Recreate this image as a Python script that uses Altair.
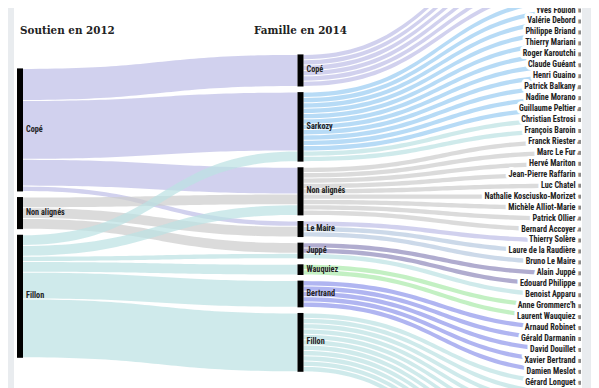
import altair as alt
import pandas as pd
import numpy as np

# ---------------- data ----------------
soutiens_2012 = ["Copé", "Non alignés", "Fillon"]
familles_2014 = ["Copé", "Sarkozy", "Non alignés", "Le Maire", "Juppé",
                 "Wauquiez", "Bertrand", "Fillon"]

flux_source = ["Copé", "Copé", "Copé", "Copé",
               "Non alignés", "Non alignés", "Non alignés",
               "Fillon", "Fillon", "Fillon", "Fillon", "Fillon", "Fillon"]
flux_cible = ["Copé", "Sarkozy", "Non alignés", "Le Maire",
              "Non alignés", "Le Maire", "Juppé",
              "Sarkozy", "Non alignés", "Juppé", "Wauquiez", "Bertrand", "Fillon"]
flux_valeur = [6, 11, 5, 1, 2, 2, 2, 2, 2, 1, 2, 5, 11]

personnalites = [
    "Jean-François Copé", "Michèle Tabarot", "Jérôme Lavrilleux", "Christian Jacob",
    "Geoffroy Didier", "Marc-Philippe Daubresse",
    "Brice Hortefeux", "Yves Foulon", "Valérie Debord", "Philippe Briand",
    "Thierry Mariani", "Roger Karoutchi", "Claude Guéant", "Henri Guaino",
    "Patrick Balkany", "Nadine Morano", "Guillaume Peltier", "Christian Estrosi",
    "François Baroin",
    "Franck Riester", "Marc Le Fur", "Hervé Mariton", "Jean-Pierre Raffarin",
    "Luc Chatel", "Nathalie Kosciusko-Morizet", "Michèle Alliot-Marie",
    "Patrick Ollier", "Bernard Accoyer",
    "Thierry Solère", "Laure de la Raudière", "Bruno Le Maire",
    "Alain Juppé", "Edouard Philippe", "Benoist Apparu",
    "Anne Grommerc'h", "Laurent Wauquiez",
    "Arnaud Robinet", "Gérald Darmanin", "David Douillet", "Xavier Bertrand",
    "Damien Meslot",
    "Gérard Longuet", "Valérie Pécresse", "Éric Ciotti", "Jérôme Chartier",
    "Pierre Lellouche", "Bernard Debré", "Henri de Raincourt", "Gilles Carrez",
    "Jean Leonetti", "Dominique Bussereau", "François Fillon",
]
famille_perso = (["Copé"] * 6 + ["Sarkozy"] * 13 + ["Non alignés"] * 9 +
                 ["Le Maire"] * 3 + ["Juppé"] * 3 + ["Wauquiez"] * 2 +
                 ["Bertrand"] * 5 + ["Fillon"] * 11)
couleur_perso = (["cope"] * 6 + ["sarkozy"] * 11 + ["fillon"] * 2 +
                 ["non"] * 9 +
                 ["cope", "lemaire", "lemaire"] +
                 ["juppe", "juppe", "fillon"] +
                 ["wauquiez"] * 2 + ["bertrand"] * 5 + ["fillon"] * 11)

palette = {"cope": "#bfbfe7", "non": "#cdcdcd", "fillon": "#bde2e3",
           "sarkozy": "#9bcdf2", "lemaire": "#b8cbe0", "juppe": "#918cbc",
           "wauquiez": "#aceaac", "bertrand": "#9298ec"}
couleur_soutien = {"Copé": "cope", "Non alignés": "non", "Fillon": "fillon"}

titres = ["Soutien en 2012", "Famille en 2014"]

# ---------------- layout (sankey, units = personalities) ----------------
PX_X = 280.5          # px between columns
PX_Y = 5.35           # px per personality
PAD = 5.6 / PX_Y      # node padding in units
NODE_W = 6 / PX_X
Y0_PX = -68.8         # page y of the top of the tallest column

def page_y(px):
    return (px - Y0_PX) / PX_Y

def page_x(px):
    return (px - 17) / PX_X

v1 = [sum(v for s, v in zip(flux_source, flux_valeur) if s == n) for n in soutiens_2012]
v2 = [famille_perso.count(f) for f in familles_2014]
v3 = [1] * len(personnalites)
center = (sum(v3) + (len(v3) - 1) * PAD) / 2

def stack(values):
    total = sum(values) + (len(values) - 1) * PAD
    y = center - total / 2
    out = []
    for v in values:
        out.append((y, y + v))
        y += v + PAD
    return out

n1 = stack(v1)
n2 = stack(v2)
n3 = stack(v3)

nodes = []
for name, (a, b) in zip(soutiens_2012, n1):
    nodes.append(dict(col=0, name=name, y0=a, y1=b))
for name, (a, b) in zip(familles_2014, n2):
    nodes.append(dict(col=1, name=name, y0=a, y1=b))
nodes_df = pd.DataFrame(nodes)
nodes_df["x0"] = nodes_df["col"]
nodes_df["x1"] = nodes_df["col"] + NODE_W
nodes_df["xl"] = nodes_df["x1"] + 3 / PX_X
nodes_df["ym"] = (nodes_df["y0"] + nodes_df["y1"]) / 2

pers_df = pd.DataFrame(dict(name=personnalites,
                            y0=[a for a, b in n3], y1=[b for a, b in n3]))
pers_df["ym"] = (pers_df["y0"] + pers_df["y1"]) / 2
pers_df["mk0"] = pers_df["ym"] - 2 / PX_Y
pers_df["mk1"] = pers_df["ym"] + 2 / PX_Y
pers_df["x0"] = 2.0 - 1.0 / PX_X
pers_df["x1"] = 2.0 + 3.0 / PX_X
pers_df["xl"] = 2.0 - 2.5 / PX_X

# links
links = []
src_off = {i: n1[i][0] for i in range(len(soutiens_2012))}
tgt_off = {j: n2[j][0] for j in range(len(familles_2014))}
order_src = sorted(range(len(flux_source)),
                   key=lambda k: (soutiens_2012.index(flux_source[k]),
                                  familles_2014.index(flux_cible[k])))
ys = {}
for k in order_src:
    i = soutiens_2012.index(flux_source[k])
    ys[k] = src_off[i]
    src_off[i] += flux_valeur[k]
order_tgt = sorted(range(len(flux_source)),
                   key=lambda k: (familles_2014.index(flux_cible[k]),
                                  soutiens_2012.index(flux_source[k])))
yt = {}
for k in order_tgt:
    j = familles_2014.index(flux_cible[k])
    yt[k] = tgt_off[j]
    tgt_off[j] += flux_valeur[k]
for k in range(len(flux_source)):
    links.append(dict(id=f"a{k}", x0=NODE_W, x1=1.0, ys=ys[k], yt=yt[k],
                      w=flux_valeur[k], c=palette[couleur_soutien[flux_source[k]]]))
fam_off = {j: n2[j][0] for j in range(len(familles_2014))}
for p, name in enumerate(personnalites):
    j = familles_2014.index(famille_perso[p])
    links.append(dict(id=f"b{p}", x0=1.0 + NODE_W, x1=2.0, ys=fam_off[j],
                      yt=n3[p][0], w=1, c=palette[couleur_perso[p]]))
    fam_off[j] += 1

GAP = 0.5 / PX_Y
rows = []
t = np.linspace(0, 1, 48)
for L in links:
    xm = (L["x0"] + L["x1"]) / 2
    xs = (1 - t) ** 3 * L["x0"] + 3 * (1 - t) ** 2 * t * xm + 3 * (1 - t) * t ** 2 * xm + t ** 3 * L["x1"]
    yy = ((1 - t) ** 3 + 3 * (1 - t) ** 2 * t) * L["ys"] + (3 * (1 - t) * t ** 2 + t ** 3) * L["yt"]
    for xv, yv in zip(xs, yy):
        rows.append(dict(id=L["id"], x=xv, top=yv + GAP, bot=yv + L["w"] - GAP, c=L["c"]))
links_df = pd.DataFrame(rows)

# ---------------- chart ----------------
W, H = 568, 380
Y_LO, Y_HI = page_y(8), page_y(8 + H)
xscale = alt.Scale(domain=[page_x(14), page_x(14 + W)], nice=False, zero=False)
yscale = alt.Scale(domain=[Y_LO, Y_HI], nice=False, zero=False, reverse=True)
X = lambda f: alt.X(f, type="quantitative", scale=xscale, axis=None)
Y = lambda f: alt.Y(f, type="quantitative", scale=yscale, axis=None)

LABEL_FONT = ("Roboto Condensed, Open Sans Condensed, "
              "DejaVu Sans Condensed, sans-serif")
LS = 8.2

link_layer = alt.Chart(links_df).mark_area(opacity=0.72, clip=True).encode(
    x=X("x"), y=Y("top"), y2="bot", detail="id:N",
    color=alt.Color("c:N", scale=None))

node_layer = alt.Chart(nodes_df).mark_rect(color="#000000", clip=True).encode(
    x=X("x0"), x2="x1", y=Y("y0"), y2="y1")

node_text = alt.Chart(nodes_df).mark_text(
    align="left", baseline="middle", font=LABEL_FONT, fontSize=LS,
    fontWeight="bold", color="#222222", clip=True).encode(
    x=X("xl"), y=Y("ym"), text="name:N")

visible = f"datum.ym >= {Y_LO} && datum.ym <= {Y_HI}"
pers_vis = alt.Chart(pers_df).transform_filter(visible)

pers_marker = alt.Chart(pers_df).mark_rect(color="#8a8a8a", clip=True).encode(
    x=X("x0"), x2="x1", y=Y("mk0"), y2="mk1")

pers_halo = pers_vis.mark_text(
    align="right", baseline="middle", font=LABEL_FONT, fontSize=LS,
    fontWeight="bold", color="white", stroke="white", strokeWidth=6,
    strokeJoin="round", clip=True).encode(
    x=X("xl"), y=Y("ym"), text="name:N")

pers_text = pers_vis.mark_text(
    align="right", baseline="middle", font=LABEL_FONT, fontSize=LS,
    fontWeight="bold", color="#222222", clip=True).encode(
    x=X("xl"), y=Y("ym"), text="name:N")

titre_df = pd.DataFrame(dict(t=titres, x=[page_x(20), 1.0 + NODE_W / 2],
                             y=[page_y(34), page_y(34)]))
TITLE_FONT = "DejaVu Serif Condensed, DejaVu Serif, serif"
titre1 = alt.Chart(titre_df.iloc[[0]]).mark_text(
    align="left", baseline="alphabetic", font=TITLE_FONT, fontSize=11.5,
    fontWeight="bold", color="#222222").encode(x=X("x"), y=Y("y"), text="t:N")
titre2 = alt.Chart(titre_df.iloc[[1]]).mark_text(
    align="center", baseline="alphabetic", font=TITLE_FONT, fontSize=11.5,
    fontWeight="bold", color="#222222").encode(x=X("x"), y=Y("y"), text="t:N")

chart = alt.layer(link_layer, node_layer, node_text, pers_marker, pers_halo,
                  pers_text, titre1, titre2).properties(
    width=W, height=H,
    autosize=alt.AutoSizeParams(type="none"),
    padding={"left": 6, "right": 9, "top": 0, "bottom": 0},
    background="#e9ecef",
).configure_view(stroke=None, fill="white")

chart.save("out.html", embed_options={"renderer": "svg", "actions": False})
